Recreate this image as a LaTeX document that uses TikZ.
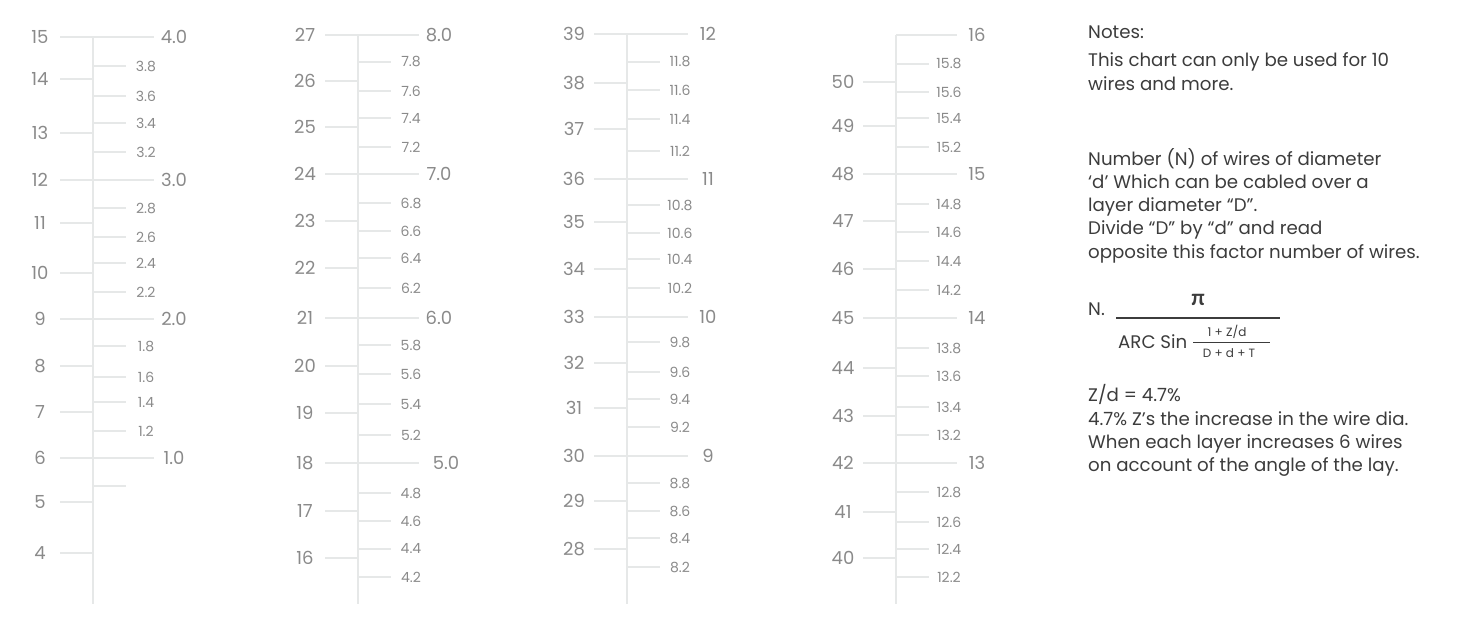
\documentclass[tikz,border=0pt]{standalone}
\usepackage{fontspec}
\setmainfont{Poppins}
\newfontfamily\greekfont{Lato}
\usetikzlibrary{positioning}
\definecolor{tickgray}{HTML}{E6E8E8}
\definecolor{labelgray}{HTML}{8A8A8A}
\definecolor{notegray}{HTML}{3C3C3C}
\tikzset{
  axisline/.style={draw=tickgray, line width=1.8pt},
  scaletick/.style={draw=tickgray, line width=1.6pt},
  numbig/.style={text=labelgray, inner sep=0pt, font=\fontsize{18}{18}\selectfont},
  numsmall/.style={text=labelgray, inner sep=0pt, font=\fontsize{14}{14}\selectfont},
  noteline/.style={text=notegray, inner sep=0pt, anchor=base west, font=\fontsize{18.2}{23}\selectfont},
  fracpart/.style={text=notegray, inner sep=0pt, font=\fontsize{12}{12}\selectfont},
}
% one column of the chart: name, axis x, axis top, left list, major list, minor list
\newcommand\chartcol[6]{%
  \draw[axisline] (#2,#3) -- (#2,604);
  \foreach \n/\y [count=\i] in {#4} {
    \draw[scaletick] (#2-33,\y) -- (#2,\y);
    \node[numbig] (#1-l\i) at (#2-53,\y) {\n};
  }
  \foreach \n/\y/\dx [count=\i] in {#5} {
    \draw[scaletick] (#2,\y) -- (#2+61,\y);
    \node[numbig] (#1-m\i) at (#2+81+\dx,\y) {\n};
  }
  \foreach \n/\y [count=\i] in {#6} {
    \draw[scaletick] (#2,\y) -- (#2+33,\y);
    \node[numsmall] (#1-s\i) at (#2+53,\y) {\n};
  }
}

\begin{document}
\begin{tikzpicture}[x=1pt, y=-1pt]
  \useasboundingbox (0,0) rectangle (1470,637);

  \chartcol{a}{93}{37}
    {15/37, 14/79, 13/133, 12/180, 11/223, 10/273, 9/319, 8/366, 7/412, 6/458, 5/502, 4/553}
    {4.0/37/0, 3.0/180/0, 2.0/319/0, 1.0/458/0}
    {3.8/66, 3.6/96, 3.4/123, 3.2/152, 2.8/208, 2.6/237, 2.4/263, 2.2/292,
     1.8/346, 1.6/377, 1.4/402, 1.2/431, {}/486}
  \chartcol{b}{358}{35}
    {27/35, 26/81, 25/127, 24/174, 23/221, 22/268, 21/318, 20/366, 19/413, 18/463, 17/511, 16/558}
    {8.0/35/0, 7.0/174/0, 6.0/318/0, 5.0/463/7}
    {7.8/62, 7.6/91, 7.4/118, 7.2/147, 6.8/203, 6.6/231, 6.4/258, 6.2/288,
     5.8/345, 5.6/374, 5.4/404, 5.2/435, 4.8/493, 4.6/521, 4.4/549, 4.2/577}
  \chartcol{c}{627}{34}
    {39/34, 38/83, 37/129, 36/179, 35/222, 34/269, 33/317, 32/363, 31/408, 30/456, 29/501, 28/549}
    {12/34/0, 11/179/0, 10/317/0, 9/456/0}
    {11.8/62, 11.6/90, 11.4/119, 11.2/151, 10.8/205, 10.6/233, 10.4/259, 10.2/288,
     9.8/342, 9.6/372, 9.4/399, 9.2/427, 8.8/483, 8.6/511, 8.4/538, 8.2/567}
  \chartcol{d}{896}{35}
    {50/82, 49/126, 48/174, 47/221, 46/269, 45/318, 44/368, 43/416, 42/463, 41/512, 40/558}
    {16/35/0, 15/174/0, 14/318/0, 13/463/0}
    {15.8/64, 15.6/92, 15.4/118, 15.2/147, 14.8/204, 14.6/232, 14.4/261, 14.2/290,
     13.8/348, 13.6/376, 13.4/407, 13.2/435, 12.8/492, 12.6/522, 12.4/549, 12.2/577}

  % notes
  \node[noteline] (notes) at (1088,38.3) {Notes:};
  \foreach \t [count=\i] in {{This chart can only be used for 10}, {wires and more.}}
    \node[noteline] (usage\i) at (1088,66.7+23.3*\i-23.3) {\t};
  \foreach \t [count=\i] in {{Number (N) of wires of diameter}, {‘d’ Which can be cabled over a},
      {layer diameter “D”.}, {Divide “D” by “d” and read}, {opposite this factor number of wires.}}
    \node[noteline] (method\i) at (1088,165+23.3*\i-23.3) {\t};

  % formula
  \node[noteline] (nlabel) at (1088,315) {N.};
  \node[text=notegray, inner sep=0pt, font=\greekfont\bfseries\fontsize{22}{22}\selectfont] (pi) at (1198,300) {π};
  \draw[notegray, line width=1.6pt] (1116,318) -- (1280,318);
  \node[noteline] (arcsin) at (1118,348.5) {ARC Sin};
  \node[fracpart] (znum) at (1227,332) {1 + Z/d};
  \draw[notegray, line width=1pt] (1193,342) -- (1270,342);
  \node[fracpart] (zden) at (1229,353) {D + d + T};

  \foreach \t [count=\i] in {{Z/d = 4.7\%}, {4.7\% Z’s the increase in the wire dia.},
      {When each layer increases 6 wires}, {on account of the angle of the lay.}}
    \node[noteline] (lay\i) at (1088,401.7+23.3*\i-23.3) {\t};
\end{tikzpicture}
\end{document}
